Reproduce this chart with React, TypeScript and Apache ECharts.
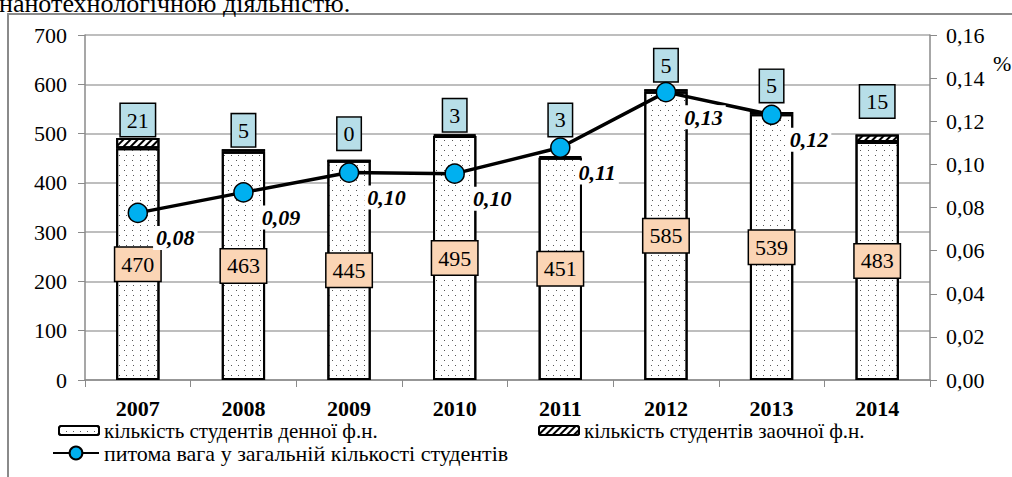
import React, { useEffect, useRef } from "react";
import * as echarts from "echarts";

const years = ["2007", "2008", "2009", "2010", "2011", "2012", "2013", "2014"];
const dayStudents = [470, 463, 445, 495, 451, 585, 539, 483];
const partStudents = [21, 5, 0, 3, 3, 5, 5, 15];
const shareValues = [0.0775, 0.087, 0.0962, 0.0957, 0.1078, 0.1335, 0.123, null];

const dayName = "кількість студентів денної ф.н.";
const partName = "кількість студентів заочної ф.н.";
const shareName = "питома вага у загальній кількості студентів";

// label lift above bars (layout only)
const partLabelLift = [2, 3, 10, 3, 20, 8, 10, 17];

const FONT = "'Liberation Serif', 'Times New Roman', 'DejaVu Serif', serif";

export default function App() {
  const ref = useRef<HTMLDivElement>(null);
  useEffect(() => {
    if (!ref.current) return;
    const chart = echarts.init(ref.current, undefined, { renderer: "svg" });
    const fmt2 = (v: number) => v.toFixed(2).replace(".", ",");
    chart.setOption({
      animation: false,
      textStyle: { fontFamily: FONT, color: "#000" },
      grid: { left: 85, right: 82, top: 35, bottom: 97, containLabel: false },
      graphic: [
        {
          type: "rect",
          shape: { x: 8, y: 14, width: 1200, height: 700 },
          style: { fill: "none", stroke: "#8a8a8a", lineWidth: 2 },
          silent: true,
        },
        {
          type: "text",
          x: -1,
          y: 16,
          style: {
            text: "нанотехнологічною діяльністю.",
            fontSize: 26,
            fontFamily: FONT,
            fill: "#000",
            verticalAlign: "bottom",
          },
        },
        {
          type: "text",
          x: 993,
          y: 52,
          style: { text: "%", fontSize: 22, fontFamily: FONT, fill: "#000" },
        },
      ],
      legend: [
        {
          data: [dayName],
          left: 58,
          top: 420,
          itemWidth: 40,
          itemHeight: 9,
          padding: 0,
          textStyle: { fontSize: 21, fontFamily: FONT, color: "#000" },
        },
        {
          data: [partName],
          left: 538,
          top: 420,
          itemWidth: 40,
          itemHeight: 9,
          padding: 0,
          textStyle: { fontSize: 21, fontFamily: FONT, color: "#000" },
        },
        {
          data: [shareName],
          left: 52,
          top: 442,
          itemWidth: 46,
          itemHeight: 16,
          padding: 0,
          textStyle: { fontSize: 22, fontFamily: FONT, color: "#000" },
        },
      ],
      xAxis: {
        type: "category",
        data: years,
        axisLine: { show: true, lineStyle: { color: "#8a8a8a", width: 1.5 } },
        axisTick: { show: true, length: 7, lineStyle: { color: "#8a8a8a" } },
        axisLabel: { fontSize: 22, fontWeight: "bold", color: "#000", margin: 17, fontFamily: FONT },
      },
      yAxis: [
        {
          type: "value",
          min: 0,
          max: 700,
          interval: 100,
          axisLine: { show: true, lineStyle: { color: "#8a8a8a", width: 1.5 } },
          axisTick: { show: true, length: 7, lineStyle: { color: "#8a8a8a" } },
          splitLine: { show: true, lineStyle: { color: "#a8a8a8", width: 1.5 } },
          axisLabel: { fontSize: 22, color: "#000", margin: 18, fontFamily: FONT },
        },
        {
          type: "value",
          min: 0,
          max: 0.16,
          interval: 0.02,
          position: "right",
          axisLine: { show: true, lineStyle: { color: "#8a8a8a", width: 1.5 } },
          axisTick: { show: true, length: 7, lineStyle: { color: "#8a8a8a" } },
          splitLine: { show: false },
          axisLabel: { fontSize: 22, color: "#000", margin: 16, fontFamily: FONT, formatter: (v: number) => fmt2(v) },
        },
      ],
      series: [
        {
          name: dayName,
          type: "bar",
          stack: "s",
          barWidth: "41%",
          data: dayStudents,
          itemStyle: {
            color: "#fff",
            borderColor: "#000",
            borderWidth: 2,
            decal: {
              symbol: "rect",
              symbolSize: 1,
              color: "#555",
              backgroundColor: "#fff",
              dashArrayX: [
                [1, 6],
                [0, 3.5, 1, 2.5],
              ],
              dashArrayY: [1, 4],
            },
          },
          label: {
            show: true,
            position: "inside",
            fontSize: 22,
            fontFamily: FONT,
            color: "#000",
            backgroundColor: "#fbd5b5",
            borderColor: "#000",
            borderWidth: 1.5,
            padding: [6, 6, 5, 6],
          },
          z: 2,
        },
        {
          name: partName,
          type: "bar",
          stack: "s",
          barWidth: "41%",
          data: partStudents.map((v, i) => ({
            value: v,
            label: { distance: partLabelLift[i] },
          })),
          itemStyle: {
            color: "#fff",
            borderColor: "#000",
            borderWidth: 2,
            decal: {
              symbol: "rect",
              symbolSize: 1,
              color: "#000",
              backgroundColor: "#fff",
              dashArrayX: [1, 0],
              dashArrayY: [1.5, 3],
              rotation: -Math.PI / 4,
            },
          },
          label: {
            show: true,
            position: "top",
            fontSize: 22,
            fontFamily: FONT,
            color: "#000",
            backgroundColor: "#b7dee8",
            borderColor: "#000",
            borderWidth: 1.5,
            padding: [5, 6, 5, 6],
          },
          z: 2,
        },
        {
          name: shareName,
          type: "line",
          yAxisIndex: 1,
          data: shareValues,
          symbol: "circle",
          symbolSize: 19,
          lineStyle: { color: "#000", width: 3.5 },
          itemStyle: { color: "#00b0f0", borderColor: "#000", borderWidth: 1.5 },
          label: {
            show: true,
            position: "right",
            offset: [0, 25],
            fontSize: 22,
            fontStyle: "italic",
            fontWeight: "bold",
            fontFamily: FONT,
            color: "#000",
            backgroundColor: "#fff",
            padding: [1, 3],
            formatter: (p: any) => fmt2(p.value),
          },
          z: 5,
        },
      ],
    });
    return () => chart.dispose();
  }, []);
  return (
    <div
      ref={ref}
      style={{ position: "absolute", left: 0, top: 0, width: 1012, height: 477, background: "#fff" }}
    />
  );
}
